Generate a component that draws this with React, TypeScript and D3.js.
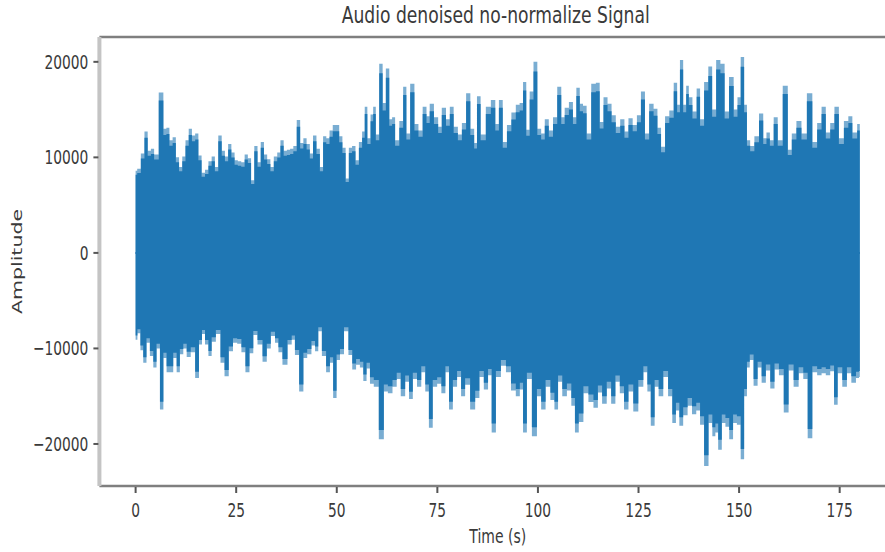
import React from 'react';
import * as d3 from 'd3';

const width = 885;
const height = 552;
const margin = { top: 37, bottom: 486, left: 99.4, right: 896 };
const blue = '#1f77b4';

const title = 'Audio denoised no-normalize Signal';
const xLabel = 'Time (s)';
const yLabel = 'Amplitude';
const xTicks = [0, 25, 50, 75, 100, 125, 150, 175];
const yTicks = [-20000, -10000, 0, 10000, 20000];

// positive peaks (seconds / amplitude)
const upperTime = [
  0, 0.8, 1.8, 2.6, 3.4, 4.2, 5.0, 6.5, 7.3, 8.0, 8.8, 9.6, 10.4, 11.2, 12.0, 12.8, 13.6, 14.4, 15.2, 16.0,
  16.8, 17.7, 18.5, 19.3, 20.1, 21.0, 21.8, 22.6, 23.4, 24.2, 25.0, 25.8, 26.7, 27.5, 28.3, 29.1, 29.9, 30.7,
  31.5, 32.3, 33.1, 33.9, 34.8, 35.6, 36.4, 37.2, 38.0, 38.8, 39.6, 40.5, 41.3, 42.1, 42.9, 43.7, 44.5, 45.4,
  46.2, 47.0, 47.8, 48.6, 49.4, 50.2, 51.0, 51.8, 52.6, 53.4, 54.2, 55.1, 55.9, 56.7, 57.2, 58.0, 58.8, 59.3,
  60.1, 61.0, 61.8, 62.6, 63.5, 64.0, 65.0, 66.1, 66.9, 67.7, 68.8, 69.8, 70.8, 71.9, 72.7, 73.5, 74.8, 75.6,
  76.6, 77.7, 78.5, 79.6, 80.6, 81.6, 82.7, 83.7, 84.6, 85.1, 86.4, 87.7, 88.9, 89.9, 90.7, 91.8, 92.8, 94.0,
  95.0, 95.9, 96.7, 97.5, 98.4, 99.4, 100.3, 101.3, 102.1, 103.3, 104.2, 105.4, 106.2, 107.1, 108.3, 109.1,
  110.0, 110.8, 111.6, 112.6, 113.9, 114.9, 115.8, 116.8, 117.8, 118.8, 119.9, 121.0, 122.0, 123.0, 124.1,
  125.1, 126.1, 127.1, 128.2, 129.3, 130.1, 131.1, 132.1, 133.2, 134.3, 134.9, 135.7, 136.5, 137.2, 137.8,
  139.0, 139.9, 140.7, 141.9, 142.8, 143.8, 144.8, 145.9, 146.9, 148.1, 149.2, 150.0, 150.8, 151.7, 152.2,
  153.3, 154.3, 155.6, 156.4, 157.2, 158.1, 159.1, 160.1, 161.6, 162.6, 163.6, 164.9, 166.1, 167.6, 168.8,
  170.0, 171.0, 172.1, 173.2, 174.2, 175.4, 176.7, 177.6, 178.7, 180.0,
];
const upperPeak = [
  8600, 8800, 10400, 12700, 10700, 10900, 10300, 16800, 13000, 13100, 11800, 12100, 10000, 9000, 10100, 11800,
  13000, 12300, 12500, 10200, 8400, 8700, 9600, 10100, 9000, 12300, 10700, 10100, 11400, 10500, 9700, 9600,
  9500, 10300, 9900, 7600, 11200, 9500, 11600, 10300, 9800, 9000, 10100, 10500, 11800, 10700, 10800, 10900,
  11200, 13900, 11500, 12000, 11400, 10400, 12300, 10900, 9000, 12200, 12000, 12800, 13400, 13400, 12200,
  11000, 7800, 11000, 11200, 9700, 11600, 12700, 15300, 12000, 14500, 15300, 12400, 19800, 15700, 19300,
  14000, 14200, 11800, 13800, 17400, 12500, 17700, 13500, 12800, 15300, 14300, 15600, 14200, 13200, 15200,
  14000, 15300, 13200, 12400, 13600, 16700, 13000, 11500, 16400, 12400, 15300, 16000, 13500, 16000, 11600,
  13400, 14700, 15500, 15700, 17900, 12900, 16900, 20000, 13000, 12500, 14000, 12800, 14200, 17400, 14200,
  15200, 15800, 14200, 17300, 15600, 15400, 12500, 17700, 17800, 13700, 16300, 15600, 14400, 13200, 14000,
  12700, 14100, 13400, 14400, 16900, 12500, 15600, 15100, 13100, 11100, 14300, 14900, 17800, 15500, 20200,
  15500, 17500, 16300, 14800, 17200, 14000, 17900, 19500, 15000, 20200, 19800, 14800, 18400, 15000, 16300,
  20500, 15500, 11800, 11200, 12200, 14600, 12000, 12600, 11800, 14200, 11800, 17500, 10800, 12500, 13800,
  12500, 16700, 11600, 13600, 15300, 12600, 13600, 15300, 12000, 13800, 14300, 12600, 13500,
];

// negative peaks
const lowerTime = [
  0, 0.9, 1.5, 2.3, 3.1, 4.0, 4.8, 5.6, 6.5, 7.3, 8.1, 8.9, 9.8, 10.6, 11.4, 12.3, 13.1, 14.3, 15.3, 16.2,
  16.8, 17.7, 18.5, 19.3, 20.6, 21.6, 22.6, 23.7, 24.7, 25.8, 26.8, 27.8, 28.8, 29.7, 30.9, 32.2, 33.0, 34.2,
  35.1, 35.9, 37.1, 38.4, 39.2, 40.0, 41.3, 42.1, 43.2, 44.2, 45.0, 45.8, 46.8, 47.9, 48.7, 49.5, 50.4, 51.2,
  52.4, 53.4, 54.3, 55.3, 56.2, 57.0, 57.8, 58.7, 59.7, 61.2, 62.2, 63.2, 64.5, 65.3, 66.5, 67.5, 68.4, 69.4,
  70.5, 71.5, 72.5, 73.3, 74.4, 75.5, 76.5, 77.5, 78.3, 79.4, 80.4, 81.4, 82.4, 83.9, 84.9, 86.0, 87.1, 88.1,
  88.9, 90.2, 91.4, 92.7, 93.9, 95.1, 95.9, 96.7, 97.8, 99.2, 100.3, 101.3, 102.5, 103.7, 104.5, 105.5, 106.6,
  107.8, 108.8, 109.6, 110.7, 111.9, 113.2, 114.4, 115.4, 116.5, 117.7, 118.7, 119.8, 120.9, 121.9, 123.1,
  124.3, 125.6, 126.8, 127.6, 128.5, 129.5, 130.5, 131.8, 132.9, 133.9, 134.7, 135.6, 136.6, 137.8, 138.8,
  139.9, 140.7, 141.9, 142.9, 143.8, 144.4, 145.2, 146.2, 147.0, 148.1, 148.9, 150.0, 150.8, 151.7, 152.2,
  153.1, 154.1, 155.1, 156.1, 157.2, 158.3, 159.3, 160.5, 161.7, 162.9, 164.2, 165.4, 166.5, 167.6, 168.8,
  170.0, 171.0, 172.1, 173.2, 174.0, 175.0, 176.3, 177.3, 178.5, 179.6, 180.0,
];
const lowerPeak = [
  -9100, -8400, -10200, -11500, -9400, -10800, -12000, -10000, -16400, -11000, -12500, -12500, -11000, -12500,
  -10600, -10000, -10900, -10400, -13100, -9600, -8500, -9600, -10800, -9300, -8500, -11500, -12900, -10300,
  -9400, -9500, -10400, -12500, -10500, -8600, -9600, -11400, -10000, -8700, -9400, -10400, -11700, -9600,
  -9100, -10700, -14500, -11000, -10600, -9700, -10300, -8200, -10800, -12500, -11500, -15200, -11200, -10600,
  -8200, -10700, -12200, -11700, -12000, -13400, -12100, -13700, -14000, -19500, -14500, -14700, -14000,
  -13200, -15000, -13500, -15300, -13200, -14000, -12500, -14500, -18300, -14000, -13700, -14700, -12500,
  -16400, -14000, -13000, -15000, -13800, -16400, -15200, -13000, -14300, -12800, -18800, -13000, -11800,
  -12500, -14400, -15000, -14300, -18800, -13200, -19200, -15000, -16400, -14000, -15400, -16400, -13500,
  -15000, -14400, -16000, -18800, -17700, -14700, -15600, -16200, -14600, -15800, -14200, -15800, -13500,
  -14700, -16400, -14500, -16600, -14000, -12500, -14500, -18100, -14000, -15000, -13000, -15000, -17800,
  -16500, -18100, -17000, -16000, -16900, -16500, -18000, -22300, -17800, -19200, -18800, -20600, -17800,
  -18200, -19500, -17800, -18000, -21600, -15000, -12000, -11200, -13900, -12000, -13600, -12300, -14200,
  -12200, -12800, -16700, -12300, -14000, -12600, -13200, -19400, -12500, -12800, -12600, -12800, -12400,
  -15900, -12600, -14000, -12600, -13600, -13100, -13000,
];

const x = d3.scaleLinear().domain([-9, 189]).range([margin.left, margin.right]);
const y = d3.scaleLinear().domain([-24400, 22600]).range([margin.bottom, margin.top]);

const fmt = (v: number) => (v < 0 ? '\u2212' + Math.abs(v) : String(v));
const font = 'DejaVu Sans, sans-serif';
const textColor = '#3a3a3a';
const stretch = 1.4;

export default function App() {
  const upper = upperTime.map((t, i) => [t, upperPeak[i]] as [number, number]);
  const lower = lowerTime.map((t, i) => [t, lowerPeak[i]] as [number, number]);

  // outer (peak tips, lighter) and inner (solid body) layers of the same envelope
  const envelope = (k: number, base: number) => d3.area<[number, number]>()
    .curve(d3.curveStep)
    .x(d => x(d[0]))
    .y0(y(0) + base)
    .y1(d => y(d[1] * k));

  return (
    <svg width={width} height={height} style={{ position: 'absolute', left: 0, top: 0, background: '#fff' }}>
      <path d={envelope(1, 1)(upper) || ''} fill={blue} fillOpacity={0.6} />
      <path d={envelope(1, -1)(lower) || ''} fill={blue} fillOpacity={0.6} />
      <path d={envelope(0.95, 1)(upper) || ''} fill={blue} />
      <path d={envelope(0.95, -1)(lower) || ''} fill={blue} />

      {/* spines */}
      <line x1={margin.left} x2={width} y1={margin.top} y2={margin.top} stroke="#7f7f7f" strokeWidth={2.5} />
      <line x1={margin.left} x2={width} y1={margin.bottom} y2={margin.bottom} stroke="#7f7f7f" strokeWidth={2.5} />
      <line x1={margin.left} x2={margin.left} y1={margin.top} y2={margin.bottom} stroke="#c4c4c4" strokeWidth={4} />

      {/* y axis */}
      {yTicks.map(v => (
        <g key={v}>
          <line x1={margin.left - 6} x2={margin.left - 1} y1={y(v)} y2={y(v)} stroke="#555" strokeWidth={2} />
          <text transform={`translate(${margin.left - 11},${y(v) + 7}) scale(1,${stretch})`}
            textAnchor="end" fontFamily={font} fontSize={13.8} fill={textColor}>{fmt(v)}</text>
        </g>
      ))}

      {/* x axis */}
      {xTicks.map(v => (
        <g key={v}>
          <line x1={x(v)} x2={x(v)} y1={margin.bottom + 1} y2={margin.bottom + 7} stroke="#555" strokeWidth={2} />
          <text transform={`translate(${x(v)},${margin.bottom + 31}) scale(1,${stretch})`}
            textAnchor="middle" fontFamily={font} fontSize={13.8} fill={textColor}>{v}</text>
        </g>
      ))}

      <text transform={`translate(${(margin.left + margin.right) / 2},${margin.bottom + 57}) scale(1,${stretch})`}
        textAnchor="middle" fontFamily={font} fontSize={14} fill={textColor}>{xLabel}</text>

      <text transform={`translate(22,${(margin.top + margin.bottom) / 2}) rotate(-90)`}
        textAnchor="middle" fontFamily={font} fontSize={14} fill={textColor}
        textLength={105} lengthAdjust="spacingAndGlyphs">{yLabel}</text>

      <text transform={`translate(${(margin.left + margin.right) / 2 - 2},23) scale(1,${stretch})`}
        textAnchor="middle" fontFamily={font} fontSize={17} fill={textColor}
        textLength={308} lengthAdjust="spacingAndGlyphs">{title}</text>
    </svg>
  );
}
